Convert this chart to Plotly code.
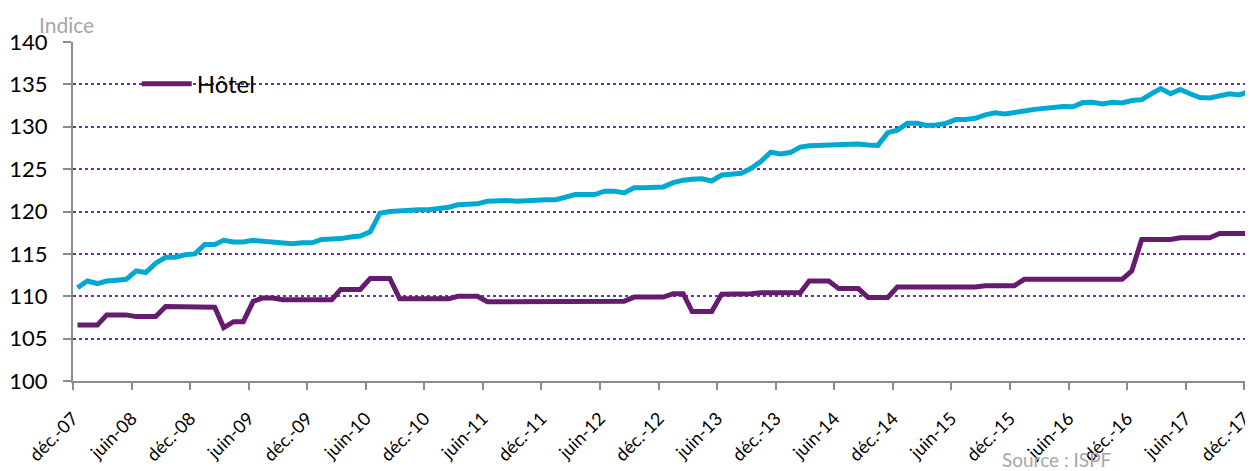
import plotly.graph_objects as go
import pandas as pd

# Monthly data, déc. 2007 -> déc. 2017 (121 points)
months = pd.date_range("2007-12-01", "2017-12-01", freq="MS") + pd.Timedelta(days=14)

serie_cyan = [
    111.0, 111.8, 111.5, 111.8, 111.9, 112.0, 113.0, 112.8, 113.9, 114.6,
    114.6, 114.9, 115.0, 116.1, 116.1, 116.6, 116.4, 116.4, 116.6, 116.5,
    116.4, 116.4, 116.2, 116.3, 116.3, 116.7, 116.7, 116.8, 117.0, 117.1,
    117.6, 119.8, 120.0, 120.1, 120.1, 120.2, 120.2, 120.3, 120.5, 120.8,
    120.8, 120.9, 121.2, 121.3, 121.3, 121.2, 121.3, 121.4, 121.4, 121.4,
    121.7, 122.0, 122.0, 122.0, 122.4, 122.4, 122.2, 122.8, 122.8, 122.9,
    122.9, 123.4, 123.7, 123.8, 123.85, 123.6, 124.3, 124.4, 124.5, 125.1,
    125.9, 127.0, 126.8, 126.95, 127.6, 127.75, 127.8, 127.9, 127.9, 128.0,
    127.95, 127.85, 127.8, 129.3, 129.6, 130.4, 130.4, 130.15, 130.2, 130.4,
    130.85, 130.85, 131.0, 131.4, 131.65, 131.5, 131.6, 131.85, 132.05, 132.2,
    132.35, 132.4, 132.35, 132.85, 132.9, 132.7, 132.9, 132.8, 133.1, 133.2,
    133.9, 134.5, 133.9, 134.4, 133.9, 133.45, 133.4, 133.65, 133.9, 133.75,
    134.15,
]

hotel = [
    106.6, 106.6, 106.6, 107.8, 107.8, 107.8, 107.6, 107.6, 107.6, 108.8,
    108.8, 108.8, 108.7, 108.7, 108.7, 106.3, 107.0, 107.0, 109.4, 109.8,
    109.8, 109.6, 109.6, 109.6, 109.6, 109.6, 109.6, 110.8, 110.8, 110.8,
    112.1, 112.1, 112.1, 109.7, 109.7, 109.7, 109.7, 109.7, 109.7, 110.0,
    110.0, 110.0, 109.35, 109.35, 109.35, 109.35, 109.35, 109.35, 109.35, 109.35,
    109.3, 109.3, 109.3, 109.3, 109.3, 109.3, 109.4, 109.9, 109.9, 109.9,
    109.9, 110.3, 110.3, 108.2, 108.2, 108.2, 110.25, 110.25, 110.25, 110.3,
    110.4, 110.4, 110.4, 110.4, 110.4, 111.8, 111.8, 111.8, 110.9, 110.9,
    110.9, 109.85, 109.85, 109.85, 111.1, 111.1, 111.1, 111.1, 111.1, 111.1,
    111.1, 111.1, 111.1, 111.25, 111.25, 111.25, 111.25, 112.0, 112.0, 112.0,
    112.0, 112.0, 112.0, 112.0, 112.0, 112.0, 112.0, 112.0, 113.0, 116.7,
    116.7, 116.7, 116.7, 116.9, 116.9, 116.9, 116.9, 117.4, 117.4, 117.4,
    117.4,
]

tick_dates = pd.date_range("2007-12-01", "2017-12-01", freq="6MS")
tick_labels = [("déc.-" if d.month == 12 else "juin-") + d.strftime("%y") for d in tick_dates]

y_ticks = [100, 105, 110, 115, 120, 125, 130, 135, 140]

FONT = "Lato"
CYAN = "#00a9d2"
PURPLE = "#661a70"
GREY = "#8c8c8c"

fig = go.Figure()
fig.add_trace(go.Scatter(
    x=months, y=serie_cyan, mode="lines", name="Ensemble",
    line=dict(color=CYAN, width=5), showlegend=False,
))
fig.add_trace(go.Scatter(
    x=months, y=hotel, mode="lines", name="Hôtel",
    line=dict(color=PURPLE, width=5),
))

fig.update_layout(
    width=1245, height=463,
    margin=dict(l=65, r=0, t=34, b=90, autoexpand=False),
    paper_bgcolor="white", plot_bgcolor="white",
    font=dict(family=FONT, color="#000000"),
    legend=dict(
        x=0.054, y=0.876, xanchor="left", yanchor="middle",
        bgcolor="rgba(0,0,0,0)", font=dict(size=24, family=FONT, color="#000"),
        itemwidth=50,
    ),
    xaxis=dict(
        type="date",
        range=["2007-12-01", "2017-12-28"],
        tickvals=tick_dates, ticktext=tick_labels, tickangle=-45,
        tickfont=dict(size=18, family=FONT, color="#000"),
        showgrid=False, zeroline=False, automargin=False,
        showline=True, linecolor=GREY, linewidth=2,
        ticks="outside", ticklen=7, tickcolor=GREY, tickwidth=2,
        ticklabelstandoff=11, ticklabeloverflow="allow",
    ),
    yaxis=dict(
        range=[100, 140], tickvals=y_ticks,
        tickfont=dict(size=22, family=FONT, color="#000"),
        showgrid=True, gridcolor="#7030a0", gridwidth=2, griddash="dot",
        zeroline=False, automargin=False,
        showline=True, linecolor=GREY, linewidth=2,
        ticks="outside", ticklen=8, tickcolor=GREY, tickwidth=2,
        ticklabelstandoff=11,
    ),
    annotations=[
        dict(text="Indice", xref="paper", yref="paper", x=-0.0305, y=1.0,
             xanchor="left", yanchor="bottom", showarrow=False, yshift=3,
             font=dict(size=21, color="#a6a6a6", family=FONT)),
        dict(text="Source : ISPF", xref="paper", yref="paper", x=0.7856, y=0,
             xanchor="left", yanchor="top", showarrow=False, yshift=-65,
             font=dict(size=19, color="#a6a6a6", family=FONT)),
    ],
)

fig.write_html("out.html")
